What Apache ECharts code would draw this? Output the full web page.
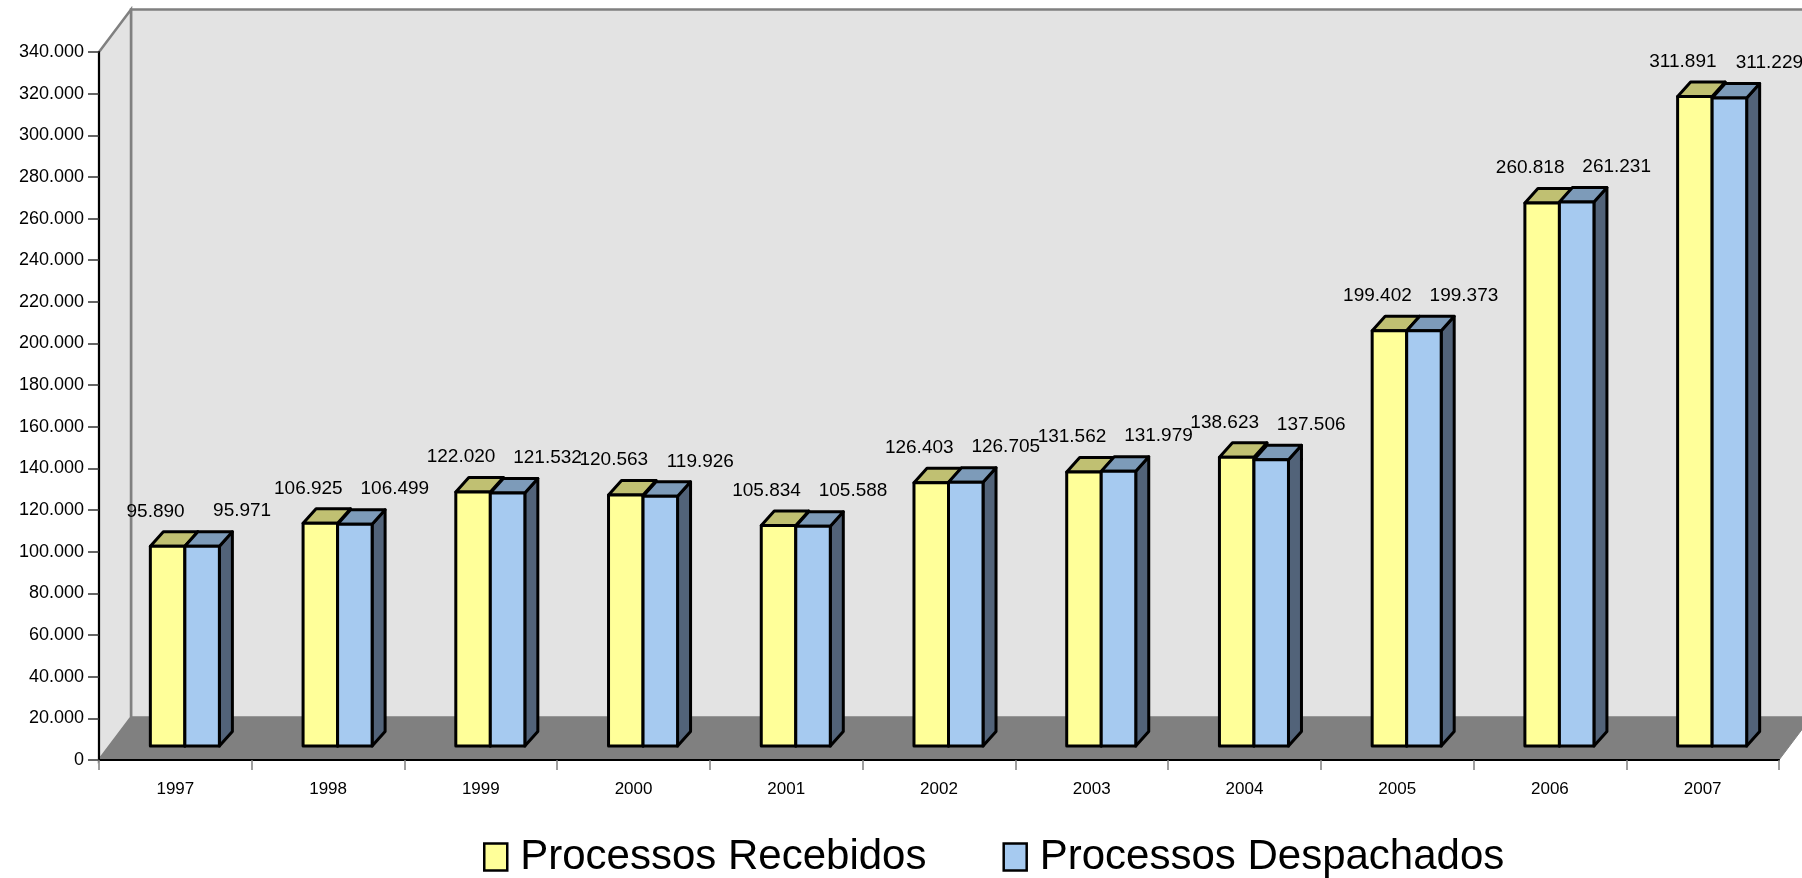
<!DOCTYPE html>
<html>
<head>
<meta charset="utf-8">
<title>Processos Recebidos e Despachados 1997–2007</title>
<script src="https://cdn.jsdelivr.net/npm/echarts@6/dist/echarts.min.js"></script>
<style>
  html, body { margin: 0; padding: 0; background: #fff; }
  #chart { width: 1802px; height: 878px; }
</style>
</head>
<body>
<div id="chart"></div>
<script>
// Yearly totals
const years = ['1997', '1998', '1999', '2000', '2001', '2002', '2003', '2004', '2005', '2006', '2007'];
const recebidos = [95890, 106925, 122020, 120563, 105834, 126403, 131562, 138623, 199402, 260818, 311891];
const despachados = [95971, 106499, 121532, 119926, 105588, 126705, 131979, 137506, 199373, 261231, 311229];
const seriesNames = ['Processos Recebidos', 'Processos Despachados'];

// Value axis range
const yMin = 0;
const yMax = 340000;
const yStep = 20000;

// Pseudo-3D geometry (pixels)
const WALL_DX = 32, WALL_DY = -42.5;   // depth of the floor / side wall
const FRONT_DX = 9.5, FRONT_DY = -14;   // bars stand one third into the floor
const BAR_DX = 13, BAR_DY = -14.5;      // depth of each bar
const BAR_RATIO = 0.226;                // bar width as a share of a category band

const FONT = '"Liberation Sans", Arial, sans-serif';

const palette = {
  recebidos: { front: '#FFFF99', top: '#C0C072', side: '#8F8F55' },
  despachados: { front: '#A6CAF0', top: '#7D9BB9', side: '#526379' }
};

function fmt(v) {
  return String(v).replace(/\B(?=(\d{3})+(?!\d))/g, '.');
}

// Back wall, side wall and floor drawn from the grid rectangle
function renderWalls(params, api) {
  const cs = params.coordSys;
  const x0 = cs.x, y0 = cs.y, x1 = cs.x + cs.width, y1 = cs.y + cs.height;
  const bx0 = x0 + WALL_DX, by0 = y0 + WALL_DY, by1 = y1 + WALL_DY, bx1 = x1 + WALL_DX;
  return {
    type: 'group',
    children: [
      { type: 'polygon', shape: { points: [[bx0, by0], [bx1 + 40, by0], [bx1 + 40, by1], [bx0, by1]] },
        style: { fill: '#E3E3E3', stroke: '#808080', lineWidth: 2.5 } },
      { type: 'polygon', shape: { points: [[x0, y0], [bx0, by0], [bx0, by1], [x0, y1]] },
        style: { fill: '#E3E3E3', stroke: '#808080', lineWidth: 2.5 } },
      { type: 'polygon', shape: { points: [[x0, y1], [x1, y1], [bx1, by1], [bx0, by1]] },
        style: { fill: '#808080', stroke: '#808080', lineWidth: 1 } }
    ]
  };
}

function makeBoxRenderer(colors, side, labelShift) {
  return function (params, api) {
    const idx = api.value(0);
    const val = api.value(1);
    const base = api.coord([idx, 0]);
    const topPt = api.coord([idx, val]);
    const band = api.size([1, 0])[0];
    const w = band * BAR_RATIO;
    const cx = base[0] + FRONT_DX;
    const xa = side === 'left' ? cx - w : cx;
    const xb = xa + w;
    const yb = base[1] + FRONT_DY;
    const yt = topPt[1] + FRONT_DY;
    const edge = { stroke: '#000', lineWidth: 3, lineJoin: 'round' };
    return {
      type: 'group',
      children: [
        { type: 'polygon',
          shape: { points: [[xb, yb], [xb + BAR_DX, yb + BAR_DY], [xb + BAR_DX, yt + BAR_DY], [xb, yt]] },
          style: Object.assign({ fill: colors.side }, edge) },
        { type: 'polygon',
          shape: { points: [[xa, yt], [xb, yt], [xb + BAR_DX, yt + BAR_DY], [xa + BAR_DX, yt + BAR_DY]] },
          style: Object.assign({ fill: colors.top }, edge) },
        { type: 'polygon',
          shape: { points: [[xa, yb], [xb, yb], [xb, yt], [xa, yt]] },
          style: Object.assign({ fill: colors.front }, edge) },
        { type: 'text',
          style: {
            text: fmt(val),
            x: (xa + xb) / 2 + labelShift,
            y: yt - 35,
            align: 'center',
            verticalAlign: 'middle',
            font: '19px ' + FONT,
            fill: '#000'
          } }
      ]
    };
  };
}

const chart = echarts.init(document.getElementById('chart'), null, { renderer: 'canvas' });

chart.setOption({
  animation: false,
  backgroundColor: '#ffffff',
  grid: { left: 99, right: 23, top: 52, bottom: 118, containLabel: false },
  xAxis: {
    type: 'category',
    data: years,
    boundaryGap: true,
    axisLine: { show: true, lineStyle: { color: '#000', width: 2 } },
    axisTick: { show: true, length: 10, alignWithLabel: false, lineStyle: { color: '#808080', width: 1.5 } },
    axisLabel: { margin: 21, fontSize: 17, fontFamily: FONT, color: '#000' },
    splitLine: { show: false }
  },
  yAxis: {
    type: 'value',
    min: yMin,
    max: yMax,
    interval: yStep,
    axisLine: { show: true, lineStyle: { color: '#000', width: 2 } },
    axisTick: { show: true, length: 11, lineStyle: { color: '#333', width: 1.5 } },
    axisLabel: { margin: 15, fontSize: 18, fontFamily: FONT, color: '#000', formatter: v => fmt(v) },
    splitLine: { show: false }
  },
  legend: {
    left: 478,
    top: 831,
    itemWidth: 23,
    itemHeight: 27,
    itemGap: 76,
    selectedMode: false,
    textStyle: { fontSize: 42, fontFamily: FONT, color: '#000', padding: [0, 0, 0, 8] },
    data: [
      { name: seriesNames[0], icon: 'rect',
        itemStyle: { color: palette.recebidos.front, borderColor: '#000', borderWidth: 2.5 } },
      { name: seriesNames[1], icon: 'rect',
        itemStyle: { color: palette.despachados.front, borderColor: '#000', borderWidth: 2.5 } }
    ]
  },
  series: [
    {
      name: 'walls',
      type: 'custom',
      z: -10,
      silent: true,
      renderItem: renderWalls,
      data: [[0, 0]]
    },
    {
      name: seriesNames[0],
      type: 'custom',
      itemStyle: { color: palette.recebidos.front },
      renderItem: makeBoxRenderer(palette.recebidos, 'left', -12),
      encode: { x: 0, y: 1 },
      data: years.map((y, i) => [i, recebidos[i]])
    },
    {
      name: seriesNames[1],
      type: 'custom',
      itemStyle: { color: palette.despachados.front },
      renderItem: makeBoxRenderer(palette.despachados, 'right', 40),
      encode: { x: 0, y: 1 },
      data: years.map((y, i) => [i, despachados[i]])
    }
  ]
});
</script>
</body>
</html>
